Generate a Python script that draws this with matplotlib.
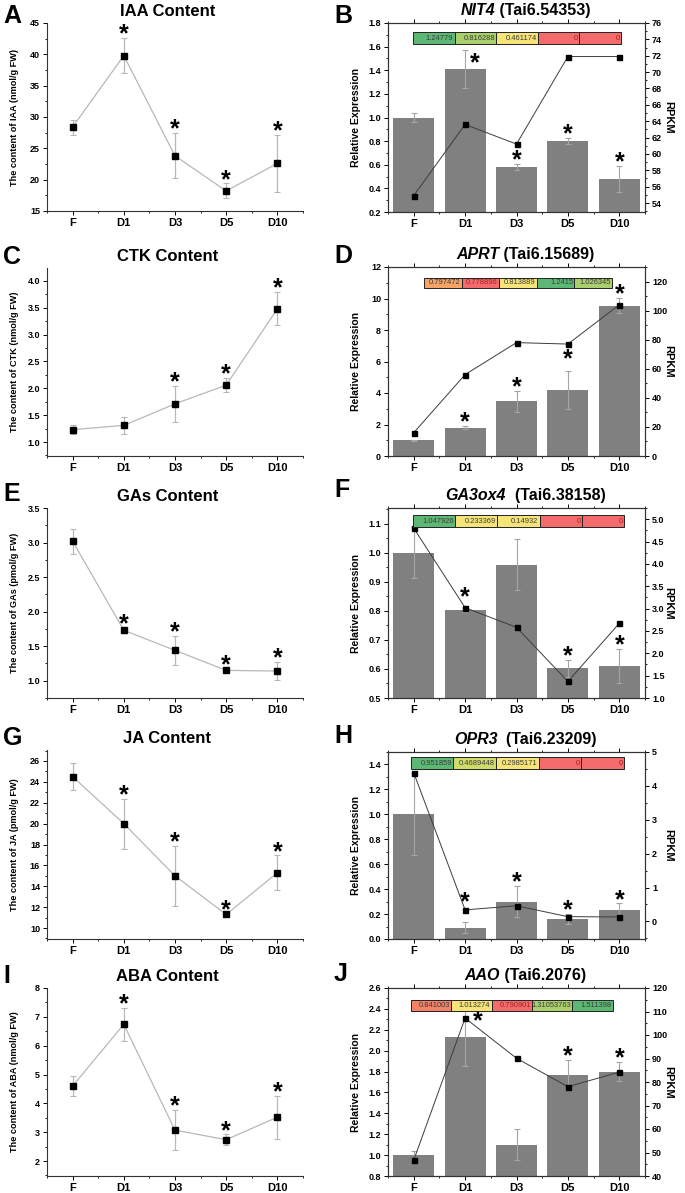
import numpy as np
import matplotlib.pyplot as plt
from matplotlib.patches import Rectangle
from matplotlib.ticker import MultipleLocator
from matplotlib.transforms import ScaledTranslation

plt.rcParams['font.family'] = ['Liberation Sans', 'DejaVu Sans']
plt.rcParams['font.weight'] = 'bold'

STAGES = ['F', 'D1', 'D3', 'D5', 'D10']

# hormone contents (left column)
iaa = [28.4, 39.8, 23.8, 18.2, 22.6]
iaa_err = [1.2, 2.8, 3.6, 1.2, 4.6]
iaa_star = [0, 1, 1, 1, 1]
ctk = [1.23, 1.31, 1.71, 2.06, 3.48]
ctk_err = [0.08, 0.16, 0.33, 0.13, 0.31]
ctk_star = [0, 0, 1, 1, 1]
gas = [3.02, 1.73, 1.44, 1.15, 1.14]
gas_err = [0.18, 0.04, 0.21, 0.02, 0.13]
gas_star = [0, 1, 1, 1, 1]
ja = [24.5, 20.0, 15.0, 11.3, 15.3]
ja_err = [1.3, 2.4, 2.85, 0.1, 1.65]
ja_star = [0, 1, 1, 1, 1]
aba = [4.6, 6.74, 3.07, 2.74, 3.52]
aba_err = [0.35, 0.58, 0.69, 0.18, 0.74]
aba_star = [0, 1, 1, 1, 1]

# gene expression (right column): qPCR bars, RPKM line, heat strip labels
nit4 = [1.0, 1.41, 0.58, 0.80, 0.48]
nit4_err = [0.035, 0.16, 0.025, 0.025, 0.11]
nit4_rpkm = [54.9, 63.6, 61.2, 71.9, 71.9]
nit4_star = [0, 1, 1, 1, 1]
nit4_heat = ['1.24779', '0.816288', '0.461174', '0', '0']

aprt = [1.0, 1.8, 3.47, 4.17, 9.55]
aprt_err = [0.03, 0.1, 0.67, 1.2, 0.5]
aprt_rpkm = [16.0, 56.0, 78.0, 77.0, 104.0]
aprt_star = [0, 1, 1, 1, 1]
aprt_heat = ['0.797472', '0.778896', '0.813889', '1.2415', '1.026345']

ga3ox4 = [1.0, 0.804, 0.96, 0.602, 0.611]
ga3ox4_err = [0.088, 0.006, 0.087, 0.03, 0.059]
ga3ox4_rpkm = [4.80, 3.02, 2.58, 1.37, 2.67]
ga3ox4_star = [0, 1, 0, 1, 1]
ga3ox4_heat = ['1.047926', '0.233369', '0.14932', '0', '0']

opr3 = [1.0, 0.09, 0.30, 0.16, 0.23]
opr3_err = [0.33, 0.045, 0.125, 0.04, 0.055]
opr3_rpkm = [4.39, 0.34, 0.46, 0.14, 0.13]
opr3_star = [0, 1, 1, 1, 1]
opr3_heat = ['0.951859', '0.4689448', '0.2985171', '0', '0']

aao = [1.0, 2.13, 1.10, 1.77, 1.80]
aao_err = [0.035, 0.28, 0.15, 0.14, 0.09]
aao_rpkm = [46.7, 107.2, 90.1, 78.0, 84.2]
aao_star = [0, 1, 0, 1, 1]
aao_heat = ['0.841003', '1.013274', '0.790901', '1.31053763', '1.511398']

GREEN, LGREEN, YGREEN = '#5cb874', '#a9d06c', '#cfdc6c'
YELLOW, RED, ORANGE, SALMON = '#f7e479', '#f36b6b', '#f5a366', '#f48268'

W, H = 685, 1193
fig = plt.figure(figsize=(W / 100, H / 100), dpi=100)
title_pairs = []


def px_axes(left, top, right, bottom):
    return fig.add_axes([left / W, 1 - bottom / H, (right - left) / W, (bottom - top) / H])


def add_stars(ax, x, tops, stars, shifts):
    for i in range(len(x)):
        if not stars[i]:
            continue
        dx, dy = shifts.get(i, (0, 0))
        ax.annotate('*', (x[i], tops[i]), xytext=(dx, dy - 2.5), textcoords='offset points',
                    ha='center', va='baseline', fontsize=18, fontweight='bold', zorder=20)


def style_ticks(ax):
    ax.tick_params(axis='both', which='major', length=3, width=0.7, direction='out', pad=2)
    ax.tick_params(axis='both', which='minor', length=1.6, width=0.6, direction='out')
    ax.tick_params(axis='x', labelsize=8)
    ax.tick_params(axis='y', labelsize=6.5)


def hormone_panel(box, vals, errs, stars, ylim, major, title, ylabel, letter, letter_pos):
    ax = px_axes(*box)
    x = np.arange(len(STAGES))
    ax.errorbar(x, vals, yerr=errs, color='#b8b8b8', lw=0.9, ecolor='#b8b8b8',
                elinewidth=0.9, capsize=2.2, capthick=0.8, marker='s', ms=4,
                mfc='black', mec='black', zorder=3)
    add_stars(ax, x, np.array(vals) + np.array(errs), stars, {})
    ax.set_xlim(-0.5, 4.5)
    ax.set_ylim(*ylim)
    ax.set_xticks(x)
    ax.set_xticklabels(STAGES)
    ax.set_xticks(np.arange(-0.5, 4.6, 1.0), minor=True)
    ax.yaxis.set_major_locator(MultipleLocator(major))
    ax.yaxis.set_minor_locator(MultipleLocator(major / 2))
    for s in ['top', 'right']:
        ax.spines[s].set_visible(False)
    for s in ['left', 'bottom']:
        ax.spines[s].set_linewidth(0.8)
        ax.spines[s].set_color('#333333')
    style_ticks(ax)
    ax.set_ylabel(ylabel, fontsize=6.6, fontweight='bold')
    ax.yaxis.set_label_coords(-0.11, 0.5)
    ax.set_title(title, fontsize=12, fontweight='bold', x=0.47, pad=5)
    fig.text(letter_pos[0] / W, 1 - letter_pos[1] / H, letter, fontsize=18,
             fontweight='bold', va='top', ha='left')
    return ax


def heat_strip(ax, labels, colors, box):
    x0, x1, y0, y1 = box
    w = (x1 - x0) / len(labels)
    for i, (lab, col) in enumerate(zip(labels, colors)):
        ax.add_patch(Rectangle((x0 + i * w, y0), w, y1 - y0, transform=ax.transAxes,
                               facecolor=col, edgecolor='#222222', lw=0.7,
                               zorder=30, clip_on=False))
        tc = '#a52020' if col == RED else '#3a3a3a'
        ax.text(x0 + (i + 1) * w - 0.005, (y0 + y1) / 2, lab, transform=ax.transAxes,
                ha='right', va='center', fontsize=5.4, fontweight='normal', color=tc, zorder=31)


def gene_title(ax, gene, ident):
    # italic gene name followed by the upright transcript id
    t1 = ax.text(0.5, 1.0, gene, fontsize=11.5, fontweight='bold', style='italic',
                 ha='left', va='bottom',
                 transform=ax.transAxes + ScaledTranslation(0, 3.5 / 72, fig.dpi_scale_trans))
    t2 = ax.annotate(ident, xy=(1, 0), xycoords=t1, ha='left', va='bottom',
                     fontsize=11.5, fontweight='bold')
    title_pairs.append((ax, t1, t2))


def gene_panel(box, vals, errs, rpkm, stars, ylim, major, ylim2, major2, gene, ident,
               heat, heat_colors, heat_box, letter, letter_pos, shifts):
    ax = px_axes(*box)
    x = np.arange(len(STAGES))
    ax.bar(x, vals, width=0.8, color='#808080', zorder=2)
    ax.errorbar(x, vals, yerr=errs, fmt='none', ecolor='#a5a5a5', elinewidth=0.8,
                capsize=2.2, capthick=0.8, zorder=3)
    add_stars(ax, x, np.array(vals) + np.array(errs), stars, shifts)
    ax.set_xlim(-0.5, 4.5)
    ax.set_ylim(*ylim)
    ax.set_xticks(x)
    ax.set_xticklabels(STAGES)
    ax.set_xticks(np.arange(-0.5, 4.6, 1.0), minor=True)
    ax.yaxis.set_major_locator(MultipleLocator(major))
    ax.yaxis.set_minor_locator(MultipleLocator(major / 2))
    style_ticks(ax)
    ax.tick_params(axis='x', which='both', top=True)
    ax.set_ylabel('Relative Expression', fontsize=7.5, fontweight='bold')
    ax.yaxis.set_label_coords(-0.105, 0.5)

    ax2 = ax.twinx()
    ax2.plot(x, rpkm, color='#3c3c3c', lw=0.7, marker='s', ms=3.6, mfc='black',
             mec='black', zorder=5)
    ax2.set_ylim(*ylim2)
    ax2.yaxis.set_major_locator(MultipleLocator(major2))
    ax2.yaxis.set_minor_locator(MultipleLocator(major2 / 2))
    style_ticks(ax2)
    ax2.set_ylabel('RPKM', rotation=270, va='bottom', fontsize=8, fontweight='bold')
    ax2.yaxis.set_label_coords(1.07, 0.5)
    for a in (ax, ax2):
        for s in a.spines.values():
            s.set_linewidth(0.8)
            s.set_color('#333333')
    heat_strip(ax2, heat, heat_colors, heat_box)
    gene_title(ax2, gene, ident)
    fig.text(letter_pos[0] / W, 1 - letter_pos[1] / H, letter, fontsize=18,
             fontweight='bold', va='top', ha='left')
    return ax


hormone_panel((47, 23, 303, 211), iaa, iaa_err, iaa_star, (15, 45), 5,
              'IAA Content', 'The content of IAA (nmol/g FW)', 'A', (3, 4))
hormone_panel((47, 268, 303, 456), ctk, ctk_err, ctk_star, (0.74, 4.24), 0.5,
              'CTK Content', 'The content of CTK (nmol/g FW)', 'C', (3, 245))
hormone_panel((47, 508, 303, 698), gas, gas_err, gas_star, (0.75, 3.5), 0.5,
              'GAs Content', 'The content of GAs (pmol/g FW)', 'E', (3, 482))
hormone_panel((47, 750, 303, 939), ja, ja_err, ja_star, (8.95, 27.05), 2,
              'JA Content', 'The content of JA (pmol/g FW)', 'G', (3, 726))
hormone_panel((47, 988, 303, 1176), aba, aba_err, aba_star, (1.48, 8), 1,
              'ABA Content', 'The content of ABA (nmol/g FW)', 'I', (3, 964))

gene_panel((388, 23, 645, 212), nit4, nit4_err, nit4_rpkm, nit4_star, (0.2, 1.8), 0.2,
           (52.9, 76), 2, 'NIT4', ' (Tai6.54353)', nit4_heat,
           [GREEN, LGREEN, YELLOW, RED, RED], (0.097, 0.907, 0.889, 0.952),
           'B', (334, 4), {1: (7, -12)})
gene_panel((388, 267, 645, 456), aprt, aprt_err, aprt_rpkm, aprt_star, (0, 12), 2,
           (0, 130), 20, 'APRT', ' (Tai6.15689)', aprt_heat,
           [ORANGE, RED, YELLOW, GREEN, LGREEN], (0.140, 0.872, 0.889, 0.942),
           'D', (334, 244), {3: (0, 6)})
gene_panel((388, 508, 645, 698), ga3ox4, ga3ox4_err, ga3ox4_rpkm, ga3ox4_star,
           (0.5, 1.155), 0.1, (1.0, 5.25), 0.5, 'GA3ox4', '  (Tai6.38158)', ga3ox4_heat,
           [GREEN, YELLOW, YELLOW, RED, RED], (0.097, 0.918, 0.900, 0.963),
           'F', (334, 478), {1: (0, 5)})
gene_panel((388, 752, 645, 939), opr3, opr3_err, opr3_rpkm, opr3_star, (0, 1.5), 0.2,
           (-0.52, 5), 1, 'OPR3', '  (Tai6.23209)', opr3_heat,
           [GREEN, YGREEN, YELLOW, RED, RED], (0.089, 0.918, 0.909, 0.973),
           'H', (334, 724), {1: (0, 12)})
gene_panel((388, 988, 645, 1176), aao, aao_err, aao_rpkm, aao_star, (0.8, 2.6), 0.2,
           (40, 120), 10, 'AAO', ' (Tai6.2076)', aao_heat,
           [SALMON, YELLOW, RED, LGREEN, GREEN], (0.089, 0.875, 0.878, 0.936),
           'J', (334, 962), {1: (9, -12)})

# center each two-part title a little right of its axes centre
fig.canvas.draw()
renderer = fig.canvas.get_renderer()
for ax, t1, t2 in title_pairs:
    w1 = t1.get_window_extent(renderer).width
    w2 = t2.get_window_extent(renderer).width
    ax_w = ax.get_window_extent(renderer).width
    t1.set_x(0.535 - (w1 + w2) / 2 / ax_w)

fig.savefig('out.png', dpi=100)
